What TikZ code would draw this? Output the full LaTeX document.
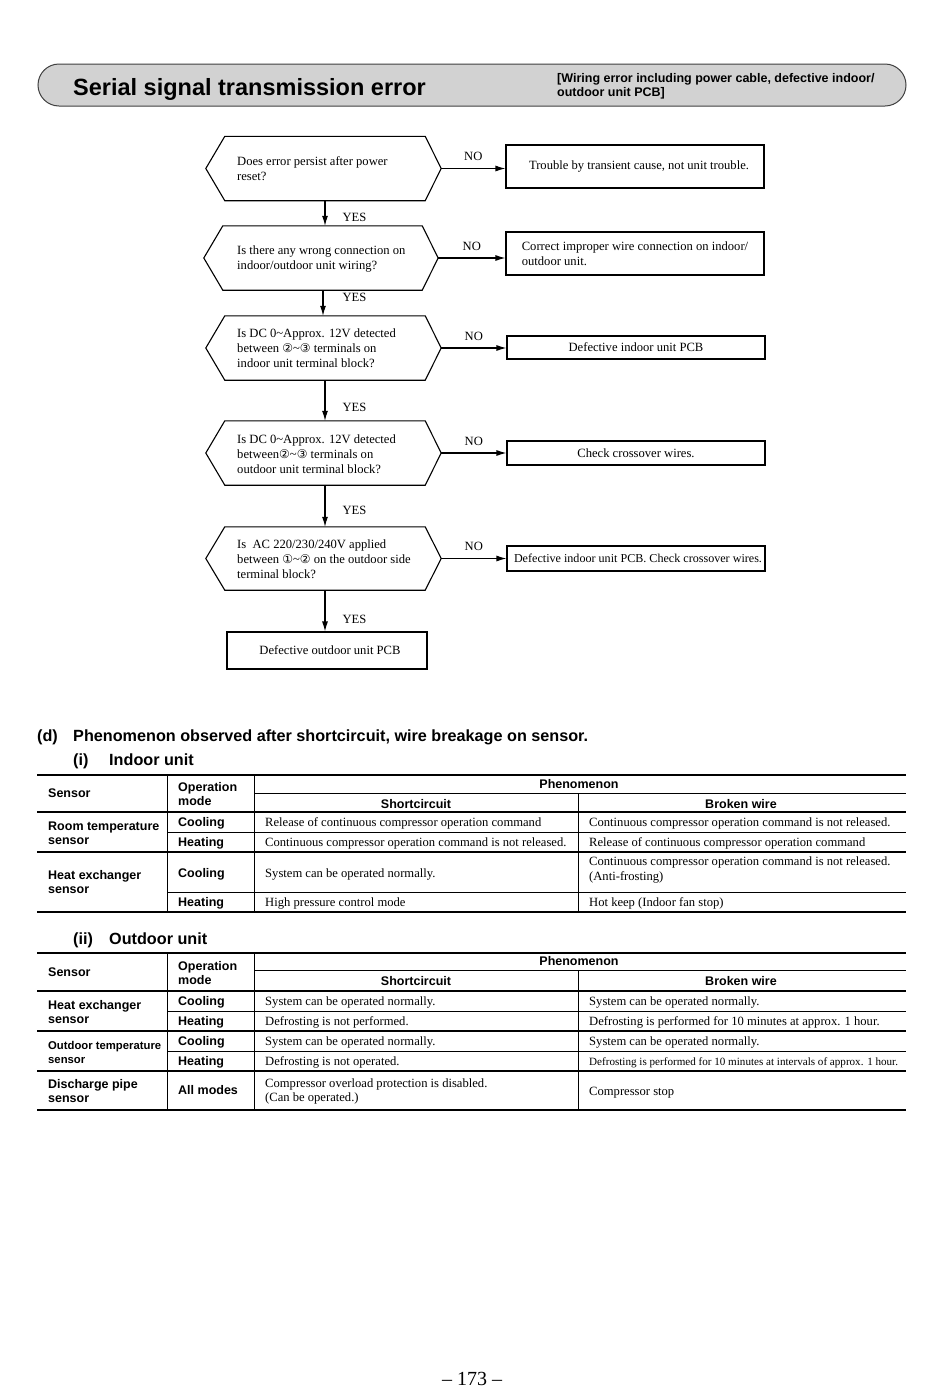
\documentclass[tikz,border=0pt]{standalone}
\usepackage{fontspec}
\setmainfont{Liberation Serif}
\setsansfont{Liberation Sans}
\newfontfamily\circfont{DejaVu Sans}
\usetikzlibrary{arrows.meta}
\newcommand{\setfsz}[2]{\fontsize{#1}{#2}\selectfont}
\newcommand{\cn}[1]{{\circfont\setfsz{12}{12}#1}}
\newcommand{\tl}{\textasciitilde}
\newcommand{\hexa}[1]{\draw[flow] (#1.west) -- ([xshift=19]#1.north west) -- ([xshift=-16]#1.north east) -- (#1.east) -- ([xshift=-16]#1.south east) -- ([xshift=19]#1.south west) -- cycle;}
\tikzset{
  every node/.style={inner sep=0pt},
  flow/.style={line width=1.1pt, draw=black},
  hexq/.style={minimum width=235, minimum height=64},
  qtext/.style={anchor=base west, align=left, font=\setfsz{12.6}{14.6}},
  abox/.style={draw, line width=1.1pt, minimum width=258, font=\setfsz{12.6}{14.6}, align=center},
  arr/.style={flow, -{Latex[length=10pt,width=6pt]}},
  lbl/.style={font=\setfsz{12.6}{14.6}},
  hd/.style={anchor=base west, align=left, font=\sffamily\bfseries\setfsz{12.5}{14}},
  hdc/.style={anchor=base, font=\sffamily\bfseries\setfsz{12.5}{14}},
  bd/.style={anchor=base west, align=left, font=\setfsz{12.6}{15}},
  thick rule/.style={line width=1.8pt},
  mid rule/.style={line width=1.3pt},
  thin rule/.style={line width=0.8pt},
}
\begin{document}
\begin{tikzpicture}[x=1pt,y=-1pt]
\useasboundingbox[fill=white] (0,0) rectangle (950,1398);

% ---------- header bar ----------
\node[draw=black!75, fill={rgb,255:red,210;green,210;blue,210}, line width=1pt, rounded corners=21, minimum width=868, minimum height=42] (bar) at (472,85) {};
\node[anchor=base west, font=\sffamily\bfseries\setfsz{23.5}{26}] (title) at (73,95) {Serial signal transmission error};
\node[anchor=base west, align=left, font=\sffamily\bfseries\setfsz{12.5}{14.5}] (subtitle) at (557,96.5) {[Wiring error including power cable, defective indoor/\\outdoor unit PCB]};

% ---------- flowchart ----------
\node[hexq] (q1) at (323.5,168.5) {};
\node[hexq, minimum width=234] (q2) at (321,258) {};
\node[hexq] (q3) at (323.5,348) {};
\node[hexq] (q4) at (323.5,453) {};
\node[hexq, minimum height=63] (q5) at (323.5,558.5) {};
\hexa{q1}\hexa{q2}\hexa{q3}\hexa{q4}\hexa{q5}

\node[qtext] (t1) at (237,180) {Does error persist after power\\reset?};
\node[qtext] (t2) at (237,269.5) {Is there any wrong connection on\\indoor/outdoor unit wiring?};
\node[qtext] (t3) at (237,367) {Is DC 0\tl Approx. 12V detected\\between \cn{②}\tl\cn{③} terminals on\\indoor unit terminal block?};
\node[qtext] (t4) at (237,473) {Is DC 0\tl Approx. 12V detected\\between\cn{②}\tl\cn{③} terminals on\\outdoor unit terminal block?};
\node[qtext] (t5) at (237,578) {Is\ \ AC 220/230/240V applied\\between \cn{①}\tl\cn{②} on the outdoor side\\terminal block?};

\node[abox, minimum height=43] (b1) at (635,166.5) {\hspace*{8pt}Trouble by transient cause, not unit trouble.};
\node[abox, minimum height=43, align=left] (b2) at (635,253.5) {Correct improper wire connection on indoor/\\outdoor unit.};
\node[abox, minimum height=23] (b3) at (636,347.5) {Defective indoor unit PCB};
\node[abox, minimum height=24] (b4) at (636,453) {Check crossover wires.};
\node[abox, minimum height=25, font=\setfsz{12.1}{14}] (b5) at (636,558.5) {\hspace*{4pt}Defective indoor unit PCB. Check crossover wires.};
\node[abox, minimum width=200, minimum height=37] (b6) at (327,650.5) {\hspace*{6pt}Defective outdoor unit PCB};

\draw[arr] (q1.east) -- (q1.east -| b1.west) node[lbl, midway, above=7pt] (n1) {NO};
\draw[arr] (q2.east) -- (q2.east -| b2.west) node[lbl, midway, above=7pt] (n2) {NO};
\draw[arr] (q3.east) -- (q3.east -| b3.west) node[lbl, midway, above=7pt] (n3) {NO};
\draw[arr] (q4.east) -- (q4.east -| b4.west) node[lbl, midway, above=7pt] (n4) {NO};
\draw[arr] (q5.east) -- (q5.east -| b5.west) node[lbl, midway, above=7pt] (n5) {NO};

\draw[arr] ([xshift=1.5]q1.south) -- ([xshift=1.5]q1.south |- q2.north) node[lbl, pos=0.65, right=17pt] (y1) {YES};
\draw[arr] ([xshift=2]q2.south) -- ([xshift=2]q2.south |- q3.north) node[lbl, pos=0.3, right=19pt] (y2) {YES};
\draw[arr] ([xshift=1.5]q3.south) -- ([xshift=1.5]q3.south |- q4.north) node[lbl, pos=0.68, right=17pt] (y3) {YES};
\draw[arr] ([xshift=1.5]q4.south) -- ([xshift=1.5]q4.south |- q5.north) node[lbl, pos=0.6, right=17pt] (y4) {YES};
\draw[arr] ([xshift=1.5]q5.south) -- ([xshift=1.5]q5.south |- b6.north) node[lbl, pos=0.71, right=17pt] (y5) {YES};

% ---------- section headings ----------
\node[anchor=base west, font=\sffamily\bfseries\setfsz{16.2}{18}] (dlab) at (37,741) {(d)};
\node[anchor=base west, font=\sffamily\bfseries\setfsz{16.2}{18}] (dtxt) at (73,741) {Phenomenon observed after shortcircuit, wire breakage on sensor.};
\node[anchor=base west, font=\sffamily\bfseries\setfsz{16.2}{18}] (ilab) at (73,765) {(i)};
\node[anchor=base west, font=\sffamily\bfseries\setfsz{16.2}{18}] (itxt) at (109,765) {Indoor unit};
\node[anchor=base west, font=\sffamily\bfseries\setfsz{16.2}{18}] (iilab) at (73,944) {(ii)};
\node[anchor=base west, font=\sffamily\bfseries\setfsz{16.2}{18}] (iitxt) at (109,944) {Outdoor unit};

% ---------- table 1 ----------
\draw[thick rule] (37,775) -- (906,775);
\draw[thin rule] (254,793) -- (906,793);
\draw[mid rule] (37,812) -- (906,812);
\draw[thin rule] (167,832) -- (906,832);
\draw[mid rule] (37,852) -- (906,852);
\draw[thin rule] (167,892) -- (906,892);
\draw[thick rule] (37,912) -- (906,912);
\draw[thin rule] (167,775) -- (167,912);
\draw[thin rule] (254,775) -- (254,912);
\draw[thin rule] (578,793) -- (578,912);

\node[hd] (a0) at (48,797) {Sensor};
\node[hd] (a1) at (178,805) {Operation\\mode};
\node[hdc] (a2) at (579,788) {Phenomenon};
\node[hdc] (a3) at (416,808) {Shortcircuit};
\node[hdc] (a4) at (741,808) {Broken wire};

\node[hd] (a5) at (48,844) {Room temperature\\sensor};
\node[hd] (a6) at (178,826) {Cooling};
\node[hd] (a7) at (178,846) {Heating};
\node[bd] (a8) at (265,826) {Release of continuous compressor operation command};
\node[bd] (a9) at (265,846) {Continuous compressor operation command is not released.};
\node[bd] (a10) at (589,826) {Continuous compressor operation command is not released.};
\node[bd] (a11) at (589,846) {Release of continuous compressor operation command};

\node[hd] (a12) at (48,893) {Heat exchanger\\sensor};
\node[hd] (a13) at (178,877) {Cooling};
\node[hd] (a14) at (178,906) {Heating};
\node[bd] (a15) at (265,877) {System can be operated normally.};
\node[bd, font=\setfsz{12.6}{15.5}] (a16) at (589,880.5) {Continuous compressor operation command is not released.\\(Anti-frosting)};
\node[bd] (a17) at (265,906) {High pressure control mode};
\node[bd] (a18) at (589,906) {Hot keep (Indoor fan stop)};

% ---------- table 2 ----------
\draw[thick rule] (37,953) -- (906,953);
\draw[thin rule] (254,970) -- (906,970);
\draw[mid rule] (37,991) -- (906,991);
\draw[thin rule] (167,1011) -- (906,1011);
\draw[mid rule] (37,1031) -- (906,1031);
\draw[thin rule] (167,1051) -- (906,1051);
\draw[mid rule] (37,1071) -- (906,1071);
\draw[thick rule] (37,1110) -- (906,1110);
\draw[thin rule] (167,953) -- (167,1110);
\draw[thin rule] (254,953) -- (254,1110);
\draw[thin rule] (578,970) -- (578,1110);

\node[hd] (c0) at (48,976) {Sensor};
\node[hd] (c1) at (178,984) {Operation\\mode};
\node[hdc] (c2) at (579,965) {Phenomenon};
\node[hdc] (c3) at (416,985) {Shortcircuit};
\node[hdc] (c4) at (741,985) {Broken wire};

\node[hd] (c5) at (48,1023) {Heat exchanger\\sensor};
\node[hd] (c6) at (178,1005) {Cooling};
\node[hd] (c7) at (178,1025) {Heating};
\node[bd] (c8) at (265,1005) {System can be operated normally.};
\node[bd] (c9) at (589,1005) {System can be operated normally.};
\node[bd] (c10) at (265,1025) {Defrosting is not performed.};
\node[bd] (c11) at (589,1025) {Defrosting is performed for 10 minutes at approx. 1 hour.};

\node[hd, font=\sffamily\bfseries\setfsz{11.3}{14}] (c12) at (48,1063) {Outdoor temperature\\sensor};
\node[hd] (c13) at (178,1045) {Cooling};
\node[hd] (c14) at (178,1065) {Heating};
\node[bd] (c15) at (265,1045) {System can be operated normally.};
\node[bd] (c16) at (589,1045) {System can be operated normally.};
\node[bd] (c17) at (265,1065) {Defrosting is not operated.};
\node[bd, font=\setfsz{11.1}{12}] (c18) at (589,1065) {Defrosting is performed for 10 minutes at intervals of approx. 1 hour.};

\node[hd] (c19) at (48,1102) {Discharge pipe\\sensor};
\node[hd] (c20) at (178,1094) {All modes};
\node[bd, font=\setfsz{12.6}{14.5}] (c21) at (265,1101.5) {Compressor overload protection is disabled.\\(Can be operated.)};
\node[bd] (c22) at (589,1095) {Compressor stop};

% ---------- page number ----------
\node[anchor=base, font=\setfsz{20}{22}] (page) at (472,1385) {– 173 –};
\end{tikzpicture}
\end{document}
